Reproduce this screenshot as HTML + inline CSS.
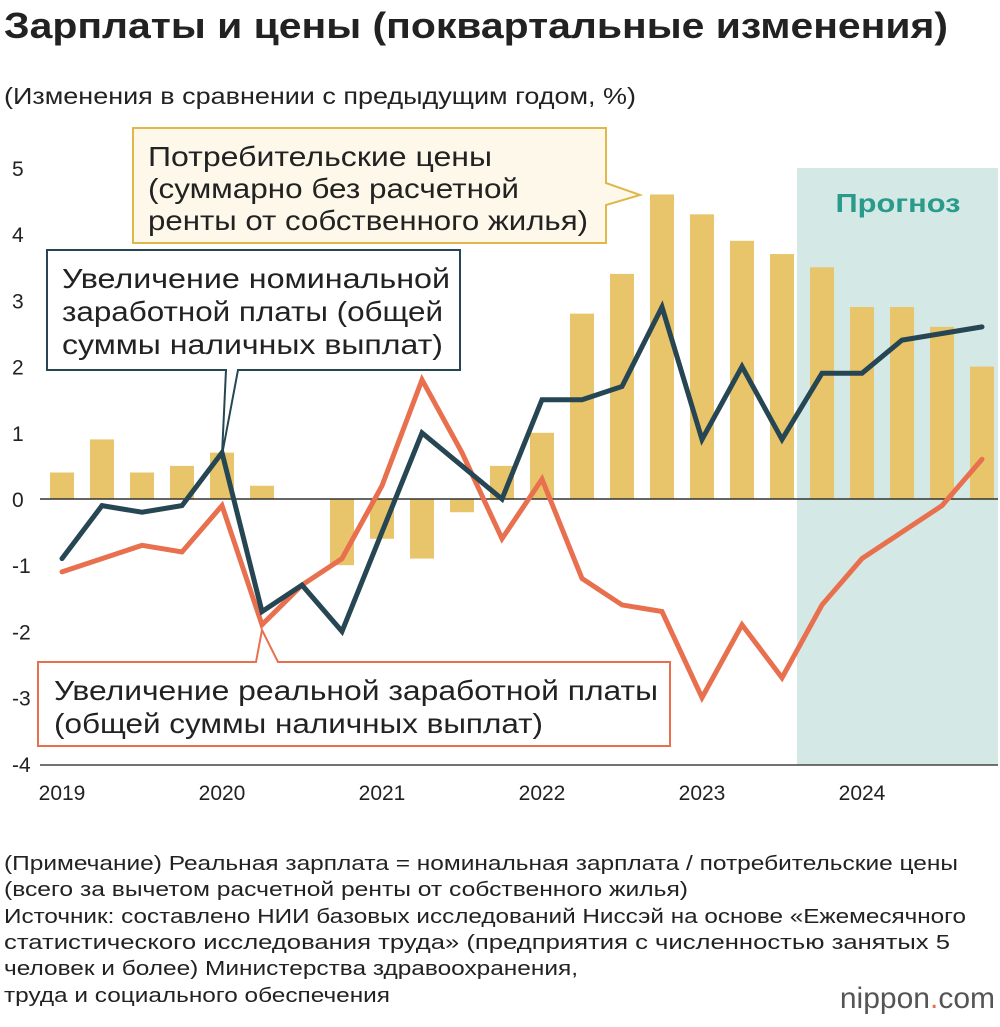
<!DOCTYPE html>
<html><head><meta charset="utf-8"><style>
body{margin:0;background:#fff;font-family:"Liberation Sans","DejaVu Sans",sans-serif}
svg text{font-family:"Liberation Sans","DejaVu Sans",sans-serif}
</style></head><body>
<svg id="c" width="1000" height="1022" xmlns="http://www.w3.org/2000/svg">
<text x="4" y="38" font-size="36" font-weight="bold" fill="#222" textLength="944" lengthAdjust="spacingAndGlyphs">Зарплаты и цены (поквартальные изменения)</text>
<text x="4" y="104" font-size="23" fill="#222" textLength="632" lengthAdjust="spacingAndGlyphs">(Изменения в сравнении с предыдущим годом, %)</text>
<rect x="797" y="168" width="201" height="597" fill="#d4e9e6"/>
<text x="898" y="212" font-size="26" font-weight="bold" fill="#2a9a8a" text-anchor="middle" textLength="125" lengthAdjust="spacingAndGlyphs">Прогноз</text>
<g id="ticks"></g><g id="bars"></g><g id="lines"></g>
<g>
<path d="M133,128 H606 V183 L640,195 L606,205 V243 H133 Z" fill="#fdf8ea" stroke="#e0b84a" stroke-width="2"/>
<text x="148" y="166" font-size="28" fill="#222" textLength="344" lengthAdjust="spacingAndGlyphs">Потребительские цены</text>
<text x="148" y="198" font-size="28" fill="#222" textLength="371" lengthAdjust="spacingAndGlyphs">(суммарно без расчетной</text>
<text x="148" y="230" font-size="28" fill="#222" textLength="440" lengthAdjust="spacingAndGlyphs">ренты от собственного жилья)</text>
</g>
<g>
<path d="M47,250 H460 V370 H238 L222,455 L226,370 H47 Z" fill="#fff" stroke="#264653" stroke-width="2"/>
<text x="62" y="288" font-size="28" fill="#222" textLength="388" lengthAdjust="spacingAndGlyphs">Увеличение номинальной</text>
<text x="62" y="321" font-size="28" fill="#222" textLength="381" lengthAdjust="spacingAndGlyphs">заработной платы (общей</text>
<text x="62" y="354" font-size="28" fill="#222" textLength="381" lengthAdjust="spacingAndGlyphs">суммы наличных выплат)</text>
</g>
<g>
<path d="M38,662 H256 L262,630 L278,662 H670 V746 H38 Z" fill="#fff" stroke="#e8704f" stroke-width="2"/>
<text x="54" y="700" font-size="28" fill="#222" textLength="604" lengthAdjust="spacingAndGlyphs">Увеличение реальной заработной платы</text>
<text x="54" y="733" font-size="28" fill="#222" textLength="489" lengthAdjust="spacingAndGlyphs">(общей суммы наличных выплат)</text>
</g>
<g font-size="20" fill="#222">
<text x="4" y="870" textLength="954" lengthAdjust="spacingAndGlyphs">(Примечание) Реальная зарплата = номинальная зарплата / потребительские цены</text>
<text x="4" y="896" textLength="684" lengthAdjust="spacingAndGlyphs">(всего за вычетом расчетной ренты от собственного жилья)</text>
<text x="4" y="923" textLength="962" lengthAdjust="spacingAndGlyphs">Источник: составлено НИИ базовых исследований Ниссэй на основе «Ежемесячного</text>
<text x="4" y="949" textLength="946" lengthAdjust="spacingAndGlyphs">статистического исследования труда» (предприятия с численностью занятых 5</text>
<text x="4" y="975" textLength="574" lengthAdjust="spacingAndGlyphs">человек и более) Министерства здравоохранения,</text>
<text x="4" y="1002" textLength="386" lengthAdjust="spacingAndGlyphs">труда и социального обеспечения</text>
</g>
<text x="995" y="1008" font-size="30" fill="#555" text-anchor="end">nippon<tspan fill="#e8704f">.</tspan>com</text>
</svg>
<script>
const years=["2019","2020","2021","2022","2023","2024"];
const yTicks=[5,4,3,2,1,0,-1,-2,-3,-4];
const cpi=[0.4,0.9,0.4,0.5,0.7,0.2,0,-1.0,-0.6,-0.9,-0.2,0.5,1.0,2.8,3.4,4.6,4.3,3.9,3.7,3.5,2.9,2.9,2.6,2.0];
const nominal=[-0.9,-0.1,-0.2,-0.1,0.7,-1.7,-1.3,-2.0,-0.5,1.0,0.5,0.0,1.5,1.5,1.7,2.9,0.9,2.0,0.9,1.9,1.9,2.4,2.5,2.6];
const real=[-1.1,-0.9,-0.7,-0.8,-0.1,-1.9,-1.3,-0.9,0.2,1.8,0.7,-0.6,0.3,-1.2,-1.6,-1.7,-3.0,-1.9,-2.7,-1.6,-0.9,-0.5,-0.1,0.6];
const NS="http://www.w3.org/2000/svg";
const X=i=>62+i*40, Y=v=>499-v*66.2;
function mk(t,a,p){const e=document.createElementNS(NS,t);for(const k in a)e.setAttribute(k,a[k]);p.appendChild(e);return e;}
const tk=document.getElementById('ticks'),bg=document.getElementById('bars'),lg=document.getElementById('lines');
yTicks.forEach(v=>{const t=mk('text',{x:12,y:Y(v)+8,'font-size':21,fill:'#222'},tk);t.textContent=v;

});
years.forEach((y,k)=>{const t=mk('text',{x:X(k*4),y:800,'font-size':21,fill:'#222','text-anchor':'middle'},tk);t.textContent=y;

});
const ax=mk('line',{x1:40,x2:998,y1:765,y2:765,stroke:'#444','stroke-width':1.5},tk);


cpi.forEach((v,i)=>{if(!v)return;const r=mk('rect',{x:X(i)-12,width:24,y:Math.min(Y(v),Y(0)),height:Math.abs(Y(v)-Y(0)),fill:'#e8c46a'},bg);

});
const zl=mk('line',{x1:40,x2:998,y1:Y(0),y2:Y(0),stroke:'#333','stroke-width':1.5},bg);


function line(d,c,n){const p=mk('polyline',{points:d.map((v,i)=>X(i)+','+Y(v)).join(' '),fill:'none',stroke:c,'stroke-width':5,'stroke-linejoin':'miter','stroke-linecap':'round'},lg);

}
line(real,'#e8704f','real-wage-line');
line(nominal,'#264653','nominal-wage-line');
</script>
</body></html>
